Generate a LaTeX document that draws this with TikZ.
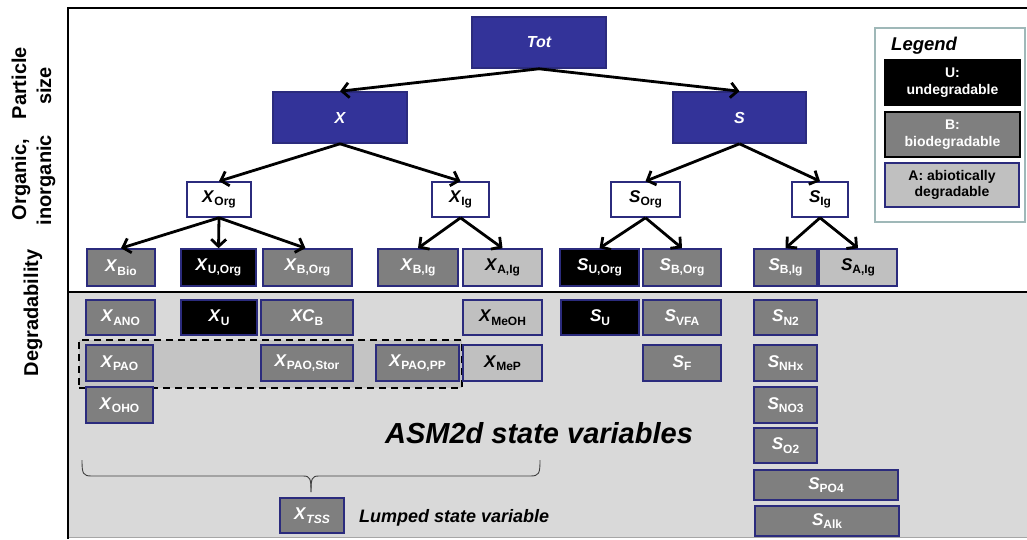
\documentclass[tikz,border=0pt]{standalone}
\usepackage{fontspec}
\setmainfont{Liberation Sans}
\usetikzlibrary{arrows.meta}
\definecolor{navy}{HTML}{2B2B7D}
\definecolor{dblue}{HTML}{333399}
\definecolor{mgray}{HTML}{7F7F7F}
\definecolor{lgray}{HTML}{C0C0C0}
\definecolor{bggray}{HTML}{D9D9D9}
\definecolor{dashgray}{HTML}{C4C4C4}
\definecolor{legbord}{HTML}{9FB8B8}
\newcommand\vr[2]{{\fontsize{17}{17}\selectfont\textit{#1}}\raisebox{-3.5pt}{\fontsize{12}{12}\selectfont #2}}
\begin{document}
\begin{tikzpicture}[x=1pt,y=-1pt,
 box/.style={draw=navy, line width=1.6pt, inner sep=0pt, font=\bfseries},
 sz/.style 2 args={minimum width=#1pt, minimum height=#2pt},
 topbox/.style={box, fill=dblue, text=white, sz={134}{51}, font=\bfseries\itshape\fontsize{16}{16}\selectfont},
 wbox/.style={box, fill=white, text=black},
 gbox/.style={box, fill=mgray, text=white},
 ubox/.style={box, fill=black, text=white},
 abox/.style={box, fill=lgray, text=black},
 legbox/.style={line width=1.6pt, inner sep=0pt, sz={135}{45}, align=center, font=\bfseries\fontsize{14}{16.5}\selectfont},
 arr/.style={line width=2.8pt, -{Straight Barb[length=7pt,width=15pt]}},
 side/.style={rotate=90, font=\bfseries\fontsize{20}{20}\selectfont, inner sep=0pt},
]
\useasboundingbox (0,0) rectangle (1027,539);
% background of lower band
\fill[bggray] (68,292) rectangle (1027,537);
\draw[gray!70, line width=0.8pt] (68,537) -- (1027,537);
% frame
\draw[line width=2pt] (1027,8) -- (68,8) -- (68,539);
\draw[line width=2pt] (68,292) -- (1027,292);

% side labels
\node[side] (lab1) at (21,133.5) {\makebox[173pt]{Organic,\hfill Particle}};
\node[side] (lab2) at (46,146) {\makebox[158pt]{inorganic\hfill size}};
\node[side] (lab3) at (33,313) {Degradability};

% top levels
\node[topbox] (tot) at (539,42.5) {Tot};
\node[topbox] (x) at (340,117.5) {X};
\node[topbox, sz={133}{51}] (s) at (739.5,117.5) {S};
\node[wbox, sz={64}{35}] (xorg) at (219,199.5) {\vr{X}{Org}};
\node[wbox, sz={57}{35}] (xig) at (460.5,199.5) {\vr{X}{Ig}};
\node[wbox, sz={69}{35}] (sorg) at (645.5,199.5) {\vr{S}{Org}};
\node[wbox, sz={56}{35}] (sig) at (820,199.5) {\vr{S}{Ig}};

% degradability level
\node[gbox, sz={68}{37}] (xbio) at (121,267.5) {\vr{X}{Bio}};
\node[ubox, sz={75}{37}] (xuorg) at (218.5,267.5) {\vr{X}{U,Org}};
\node[gbox, sz={89}{37}] (xborg) at (307.5,267.5) {\vr{X}{B,Org}};
\node[gbox, sz={80}{37}] (xbig) at (418,267.5) {\vr{X}{B,Ig}};
\node[abox, sz={79}{37}] (xaig) at (502.5,267.5) {\vr{X}{A,Ig}};
\node[ubox, sz={79}{37}] (suorg) at (599.5,267.5) {\vr{S}{U,Org}};
\node[gbox, sz={78}{37}] (sborg) at (682,267.5) {\vr{S}{B,Org}};
\node[gbox, sz={63}{37}] (sbig) at (785.5,267.5) {\vr{S}{B,Ig}};
\node[abox, sz={78}{37}] (saig) at (858,267.5) {\vr{S}{A,Ig}};

% arrows
\draw[arr] (tot.south) -- (x.north);
\draw[arr] (tot.south) -- (s.north);
\draw[arr] (x.south) -- (xorg.north);
\draw[arr] (x.south) -- (xig.north);
\draw[arr] (s.south) -- (sorg.north);
\draw[arr] (s.south) -- (sig.north);
\draw[arr] (xorg.south) -- (xbio.north);
\draw[arr] (xorg.south) -- (xuorg.north);
\draw[arr] (xorg.south) -- ([xshift=-2pt]xborg.north);
\draw[arr] (xig.south) -- (xbig.north);
\draw[arr] (xig.south) -- (xaig.north);
\draw[arr] (sorg.south) -- (suorg.north);
\draw[arr] (sorg.south) -- (sborg.north);
\draw[arr] (sig.south) -- (sbig.north);
\draw[arr] (sig.south) -- (saig.north);

% PAO group
\node[draw, dashed, dash pattern=on 7pt off 5pt, line width=1.8pt, fill=dashgray, sz={383}{48}, inner sep=0pt] (paogrp) at (270.5,364) {};

% ASM2d state variables
\node[gbox, sz={69}{35}] (xano) at (120.5,317.5) {\vr{X}{ANO}};
\node[ubox, sz={76}{35}] (xu) at (219,317.5) {\vr{X}{U}};
\node[gbox, sz={92}{35}] (xcb) at (307,317.5) {\vr{XC}{B}};
\node[abox, sz={79}{35}] (xmeoh) at (502.5,317.5) {\vr{X}{MeOH}};
\node[ubox, sz={78}{35}] (su) at (600,317.5) {\vr{S}{U}};
\node[gbox, sz={78}{35}] (svfa) at (682,317.5) {\vr{S}{VFA}};
\node[gbox, sz={63}{35}] (sn2) at (785.5,317.5) {\vr{S}{N2}};

\node[gbox, sz={67}{36}] (xpao) at (119.5,363) {\vr{X}{PAO}};
\node[gbox, sz={92}{36}] (xpaostor) at (307,363) {\vr{X}{PAO,Stor}};
\node[gbox, sz={83}{36}] (xpaopp) at (417.5,363) {\vr{X}{PAO,PP}};
\node[abox, sz={79}{36}] (xmep) at (502.5,363) {\vr{X}{MeP}};
\node[gbox, sz={78}{36}] (sf) at (682,363) {\vr{S}{F}};
\node[gbox, sz={63}{36}] (snhx) at (785.5,363) {\vr{S}{NHx}};

\node[gbox, sz={67}{36}] (xoho) at (119.5,405) {\vr{X}{OHO}};
\node[gbox, sz={63}{36}] (sno3) at (785.5,405) {\vr{S}{NO3}};
\node[gbox, sz={63}{35}] (so2) at (785.5,445.5) {\vr{S}{O2}};
\node[gbox, sz={144}{30}] (spo4) at (826,485) {\vr{S}{PO4}};
\node[gbox, sz={144}{30}] (salk) at (827,521) {\vr{S}{Alk}};

\node[anchor=base, font=\bfseries\itshape\fontsize{29}{29}\selectfont, inner sep=0pt] (asm) at (539,443) {ASM2d state variables};

% brace and lumped variable
\draw[black!75, line width=0.9pt] (82,460) .. controls (82,474) and (83,476) .. (92,476) -- (303,476) .. controls (310,476) and (311,478) .. (311,492);
\draw[black!75, line width=0.9pt] (540,460) .. controls (540,474) and (539,476) .. (530,476) -- (319,476) .. controls (312,476) and (311,478) .. (311,492);
\node[gbox, sz={64}{35}] (xtss) at (312,515.5) {\vr{X}{\textit{TSS}}};
\node[anchor=base west, font=\bfseries\itshape\fontsize{18}{18}\selectfont, inner sep=0pt] (lumped) at (359,522.7) {Lumped state variable};

% legend
\node[draw=legbord, line width=1.6pt, fill=white, sz={150}{194}, inner sep=0pt] (legend) at (950,125) {};
\node[anchor=base west, font=\bfseries\itshape\fontsize{18.5}{18.5}\selectfont, inner sep=0pt] (legtitle) at (891,50) {Legend};
\node[legbox, draw=black, fill=black, text=white] (legu) at (952.5,82.5) {U:\\undegradable};
\node[legbox, draw=black, fill=mgray, text=white] (legb) at (952.5,134.5) {B:\\biodegradable};
\node[legbox, draw=navy, fill=lgray, text=black, sz={134}{44}] (lega) at (952,185) {A: abiotically\\degradable};
\end{tikzpicture}
\end{document}
